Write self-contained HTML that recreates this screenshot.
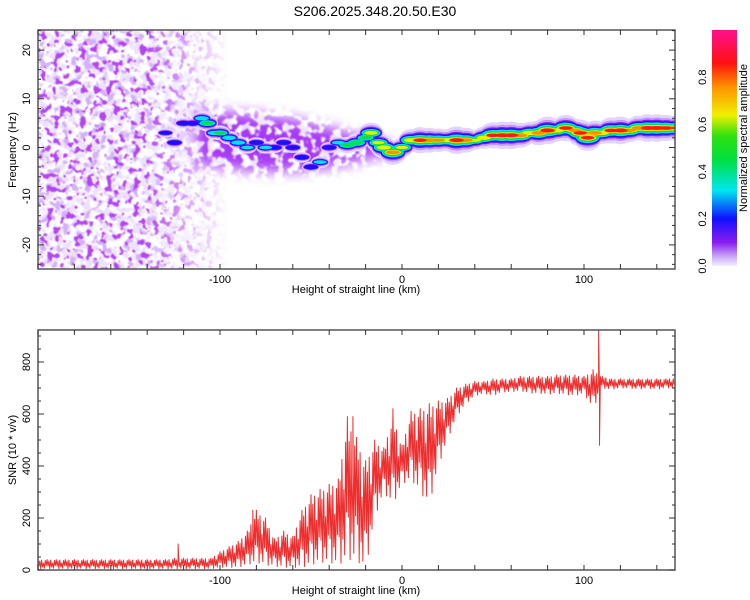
<!DOCTYPE html>
<html><head><meta charset="utf-8"><style>
body{margin:0;background:#fff;}
svg{display:block;font-family:"Liberation Sans",sans-serif;}
</style></head><body>
<svg id="chart" width="750" height="600" viewBox="0 0 750 600" xmlns="http://www.w3.org/2000/svg">
<defs>
  <filter id="noiseLight" x="0" y="0" width="1" height="1" filterUnits="objectBoundingBox">
    <feTurbulence type="fractalNoise" baseFrequency="0.12" numOctaves="2" seed="11"/>
    <feColorMatrix type="matrix" values="0 0 0 0 0.85  0 0 0 0 0.76  0 0 0 0 0.97  8 0 0 0 -3.7"/>
    <feGaussianBlur stdDeviation="0.6"/>
  </filter>
  <filter id="noiseMid" x="0" y="0" width="1" height="1" filterUnits="objectBoundingBox">
    <feTurbulence type="fractalNoise" baseFrequency="0.13" numOctaves="2" seed="7"/>
    <feColorMatrix type="matrix" values="0 0 0 0 0.66  0 0 0 0 0.44  0 0 0 0 0.94  14 0 0 0 -8.0"/>
    <feGaussianBlur stdDeviation="0.6"/>
  </filter>
  <filter id="noiseDark" x="0" y="0" width="1" height="1" filterUnits="objectBoundingBox">
    <feTurbulence type="fractalNoise" baseFrequency="0.15" numOctaves="2" seed="3"/>
    <feColorMatrix type="matrix" values="0 0 0 0 0.45  0 0 0 0 0.06  0 0 0 0 0.88  16 0 0 0 -9.3"/>
    <feGaussianBlur stdDeviation="0.6"/>
  </filter>
  <filter id="noiseBand" x="0" y="0" width="1" height="1" filterUnits="objectBoundingBox">
    <feTurbulence type="fractalNoise" baseFrequency="0.12" numOctaves="2" seed="5"/>
    <feColorMatrix type="matrix" values="0 0 0 0 0.38  0 0 0 0 0.04  0 0 0 0 0.92  12 0 0 0 -5.2"/>
    <feGaussianBlur stdDeviation="0.8"/>
  </filter>
  <filter id="softBlur" x="-0.2" y="-0.5" width="1.4" height="2"><feGaussianBlur stdDeviation="7"/></filter>
  <linearGradient id="fadeGrad" x1="0" x2="1" y1="0" y2="0">
    <stop offset="0" stop-color="#fff"/><stop offset="0.17" stop-color="#fff"/><stop offset="0.3" stop-color="#000"/><stop offset="1" stop-color="#000"/>
  </linearGradient>
  <mask id="fadeMask" maskUnits="userSpaceOnUse" x="0" y="0" width="750" height="600"><rect x="38" y="30" width="637" height="239" fill="url(#fadeGrad)"/></mask>
  <mask id="bandMask" maskUnits="userSpaceOnUse" x="0" y="0" width="750" height="600"><path d="M 195 112 Q 280 110 350 134 L 390 142 L 390 154 L 350 163 Q 280 180 195 163 Z" fill="#fff" filter="url(#softBlur)"/></mask>
  <clipPath id="topClip"><rect x="38" y="30" width="637" height="239"/></clipPath>
  <clipPath id="botClip"><rect x="38" y="330" width="637" height="240"/></clipPath>
  <linearGradient id="cbGrad" x1="0" x2="0" y1="1" y2="0">
    <stop offset="0" stop-color="#f4eefc"/><stop offset="0.04" stop-color="#c9a8f6"/><stop offset="0.1" stop-color="#8a1cf0"/>
    <stop offset="0.2" stop-color="#1010ff"/><stop offset="0.32" stop-color="#00e6f0"/><stop offset="0.45" stop-color="#00e040"/>
    <stop offset="0.55" stop-color="#30e010"/><stop offset="0.64" stop-color="#f0f000"/><stop offset="0.76" stop-color="#ff9000"/>
    <stop offset="0.86" stop-color="#ff1010"/><stop offset="1" stop-color="#ff1090"/>
  </linearGradient>
</defs>
<text x="375" y="16" font-size="14" text-anchor="middle">S206.2025.348.20.50.E30</text>
<g id="topPlot"></g>
<g id="botPlot"></g>
<g id="colorbar"></g>
</svg>
<script>
// ---- Spectrogram ridge data (km, Hz, normalized amplitude) ----
const ridgeKm  = [-130,-125,-120,-115,-110,-107,-103,-100,-95,-90,-85,-80,-75,-70,-65,-60,-55,-50,-45,-40,-35,-30,-25,-20,-17,-13,-10,-5,0,5,10,15,20,25,30,35,40,45,50,55,60,65,70,75,80,85,90,95,98,102,106,110,115,120,125,130,135,140,145,150];
const ridgeHz  = [3,1,5,5,6,5,3,3,2,1,0,1,0,0,1,0,-2,-4,-3,0,1,0.5,1,2,3,1,0,-1,0,1.5,1.5,1.5,1.5,1.5,1.5,1.5,1.5,2,2.5,2.5,2.5,2.5,3,3,3.5,3.5,4,3.5,3,2,3,3,3.5,3.5,3.5,4,4,4,4,4];
const ridgeAmp = [0.25,0.3,0.3,0.3,0.4,0.5,0.4,0.45,0.4,0.4,0.35,0.3,0.35,0.3,0.3,0.3,0.3,0.3,0.35,0.3,0.35,0.5,0.55,0.5,0.65,0.6,0.7,0.8,0.6,0.7,0.85,0.8,0.75,0.7,0.9,0.8,0.6,0.7,0.85,0.9,0.9,0.8,0.7,0.8,0.9,0.7,0.85,0.75,0.85,0.85,0.8,0.7,0.85,0.9,0.75,0.8,0.9,0.9,0.85,0.8];
// ---- SNR envelope per 5 km bin starting at -200 km ----
const snrStartKm = -200, snrStepKm = 5;
const snrLow  = [5,5,5,5,5,5,5,5,5,5,5,5,5,5,5,5,5,5,5,5,10,10,10,20,30,20,15,10,10,10,20,30,30,20,40,40,0,200,300,250,330,350,300,250,400,500,590,640,670,680,670,685,685,690,680,680,675,680,675,670,680,620,700,695,700,700,695,700,695,700,700];
const snrHigh = [40,40,40,40,40,40,40,40,40,40,40,40,40,40,40,45,45,45,45,45,70,90,110,150,230,200,120,150,130,230,290,310,330,350,590,510,420,500,470,600,480,610,620,640,650,660,700,715,725,725,735,735,735,745,745,745,745,750,750,750,745,770,745,735,735,735,735,735,735,735,740];
const spikeKm  = [-123,-82,-27,-5,108,108.5];
const spikeVal = [100,230,590,620,920,480];
// ---- Tick labels ----
const xTickLabels = [-100,0,100];
const fTickLabels = [-20,-10,0,10,20];
const snrTickLabels = [0,200,400,600,800];
const cbTickLabels = [0.0,0.2,0.4,0.6,0.8];

const NS = "http://www.w3.org/2000/svg";
const xs = km => 38 + (km + 200) * (637 / 350);
const yf = f => 147.5 - f * 4.87;
const yb = v => 570 - v * 0.26;
function mk(tag, attrs, parent){const e=document.createElementNS(NS,tag);for(const k in attrs)e.setAttribute(k,attrs[k]);parent.appendChild(e);return e;}

const topG = document.getElementById('topPlot');
const botG = document.getElementById('botPlot');
const cbG = document.getElementById('colorbar');

// noise background (decorative texture)
const ng = mk('g',{'clip-path':'url(#topClip)'},topG);
const lg = mk('g',{mask:'url(#fadeMask)'},ng);
const nl = mk('rect',{x:38,y:30,width:637,height:239,filter:'url(#noiseLight)'},lg);


const nm = mk('rect',{x:38,y:30,width:637,height:239,filter:'url(#noiseMid)'},lg);


const nd = mk('rect',{x:38,y:30,width:637,height:239,filter:'url(#noiseDark)'},lg);


const bg = mk('g',{mask:'url(#bandMask)'},ng);
const bl = mk('rect',{x:38,y:30,width:637,height:239,filter:'url(#noiseLight)'},bg);


const bd = mk('rect',{x:38,y:30,width:637,height:239,filter:'url(#noiseBand)'},bg);



// ridge levels
const levels = [[0.02,'#e4d4fb',7],[0.08,'#c09af5',5.5],[0.14,'#8a1cf0',4.5],[0.2,'#1a10ff',4],[0.3,'#00e0f0',3.5],[0.42,'#00e050',3],[0.58,'#e8f000',2.5],[0.7,'#ff9000',2],[0.8,'#ff1a10',2]];
const rg = mk('g',{'clip-path':'url(#topClip)'},topG);
levels.forEach(([L,col,k])=>{
  for(let i=0;i<ridgeKm.length;i++){
    const a=ridgeAmp[i]; if(a<=L) continue;
    const e=mk('ellipse',{cx:xs(ridgeKm[i]),cy:yf(ridgeHz[i]),rx:6+10*(a-L),ry:1.5+k*(a-L)*2,fill:col},rg);
    
    
  }
});

// SNR line
let pts=[];
const pat=[1,0.3,0.85,0,0.95,0.2,0.6,0.05,0.9,0.35];
for(let i=0;i<snrLow.length-1;i++){
  const k0=snrStartKm+i*snrStepKm;
  for(let j=0;j<10;j++){
    const t=j/10, km=k0+t*snrStepKm;
    const lo=snrLow[i]+(snrLow[i+1]-snrLow[i])*t, hi=snrHigh[i]+(snrHigh[i+1]-snrHigh[i])*t;
    pts.push([km, lo+pat[j]*(hi-lo)]);
  }
}
spikeKm.forEach((k,i)=>pts.push([k,spikeVal[i]]));
pts.sort((a,b)=>a[0]-b[0]);
const line=mk('polyline',{points:pts.map(p=>xs(p[0]).toFixed(1)+','+yb(p[1]).toFixed(1)).join(' '),fill:'none',stroke:'#ee2e2e','stroke-width':1,'stroke-linejoin':'round','clip-path':'url(#botClip)'},botG);



// axes frames and ticks
function frame(g,y0,y1,name){
  const r=mk('rect',{x:38,y:y0,width:637,height:y1-y0,fill:'none',stroke:'#555','stroke-width':1.5},g);
  
  
  for(let km=-200;km<=150;km+=20){
    const x=xs(km);
    mk('line',{x1:x,x2:x,y1:y0,y2:y0+5,stroke:'#333'},g);
    mk('line',{x1:x,x2:x,y1:y1,y2:y1-5,stroke:'#333'},g);
  }
  xTickLabels.forEach(v=>{
    const t=mk('text',{x:xs(v),y:y1+14,'font-size':11,'text-anchor':'middle'},g);
    t.textContent=v;
    
    
  });
  const at=mk('text',{x:356,y:y1+24,'font-size':11,'text-anchor':'middle'},g);
  at.textContent='Height of straight line (km)';
  
  
}
frame(topG,30,269,'spectrogram-frame');
frame(botG,330,570,'snr-frame');
for(let f=-24;f<=24;f+=2){
  const y=yf(f),len=f%10===0?6:3;
  mk('line',{x1:38,x2:38+len,y1:y,y2:y,stroke:'#333'},topG);
  mk('line',{x1:675,x2:675-len,y1:y,y2:y,stroke:'#333'},topG);
}
fTickLabels.forEach(v=>{
  const t=mk('text',{x:0,y:0,'font-size':11,'text-anchor':'middle',transform:`translate(30,${yf(v)}) rotate(-90)`},topG);
  t.textContent=v;
  
  
});
const ft=mk('text',{x:0,y:0,'font-size':11,'text-anchor':'middle',transform:'translate(16,150) rotate(-90)'},topG);
ft.textContent='Frequency (Hz)';


for(let v=0;v<=900;v+=50){
  const y=yb(v),len=v%200===0?6:3;
  mk('line',{x1:38,x2:38+len,y1:y,y2:y,stroke:'#333'},botG);
  mk('line',{x1:675,x2:675-len,y1:y,y2:y,stroke:'#333'},botG);
}
snrTickLabels.forEach(v=>{
  const t=mk('text',{x:0,y:0,'font-size':11,'text-anchor':'middle',transform:`translate(30,${yb(v)}) rotate(-90)`},botG);
  t.textContent=v;
  
  
});
const st=mk('text',{x:0,y:0,'font-size':11,'text-anchor':'middle',transform:'translate(16,450) rotate(-90)'},botG);
st.textContent='SNR (10 * v/v)';



// colorbar
const cr=mk('rect',{x:712,y:30,width:25,height:236,fill:'url(#cbGrad)'},cbG);


const cbY = v => 266 - v * 236;
cbTickLabels.forEach(v=>{
  const t=mk('text',{x:0,y:0,'font-size':11,'text-anchor':'middle',transform:`translate(706,${cbY(v)}) rotate(-90)`},cbG);
  t.textContent=v.toFixed(1);
  
  
});
const ct=mk('text',{x:0,y:0,'font-size':11,'text-anchor':'middle',transform:'translate(747,138) rotate(-90)'},cbG);
ct.textContent='Normalized spectral amplitude';


</script>
</body></html>
